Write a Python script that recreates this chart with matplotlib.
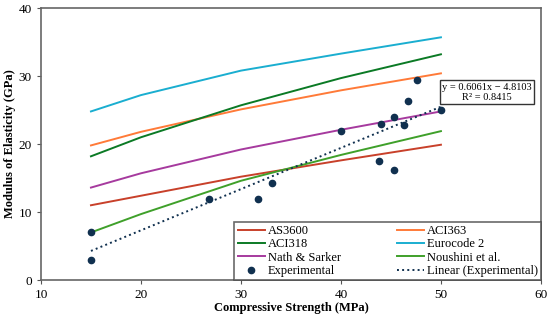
import matplotlib.pyplot as plt
import numpy as np

plt.rcParams['font.family'] = ['Liberation Serif', 'DejaVu Serif']

# model predictions (GPa) at compressive strengths (MPa)
fc_model = [15, 20, 30, 40, 50]
as3600 = [11.0, 12.4, 15.2, 17.6, 19.9]
aci363 = [19.8, 21.8, 25.1, 27.9, 30.4]
aci318 = [18.2, 21.0, 25.7, 29.7, 33.2]
eurocode2 = [24.8, 27.2, 30.8, 33.3, 35.7]
nath_sarker = [13.6, 15.7, 19.2, 22.1, 24.8]
noushini = [7.0, 9.7, 14.6, 18.4, 21.9]

# experimental results
fc_exp = [15, 15, 26.8, 31.7, 33.1, 40, 43.8, 44.0, 45.3, 45.3, 46.3, 46.7, 47.6, 50]
e_exp = [7.0, 3.0, 11.9, 11.9, 14.3, 21.9, 17.5, 22.9, 24.0, 16.2, 22.8, 26.3, 29.4, 25.0]

# linear trendline
slope, intercept = 0.6061, -4.8103
r2 = 0.8415

fig = plt.figure(figsize=(5.5, 3.23), dpi=100)
ax = fig.add_axes([0.0745, 0.133, 0.909, 0.842])

h_as, = ax.plot(fc_model, as3600, color='#c8402a', lw=1.4, label='AS3600')
h_363, = ax.plot(fc_model, aci363, color='#ff7a38', lw=1.4, label='ACI363')
h_318, = ax.plot(fc_model, aci318, color='#0b7a25', lw=1.4, label='ACI318')
h_ec, = ax.plot(fc_model, eurocode2, color='#1aaed0', lw=1.4, label='Eurocode 2')
h_ns, = ax.plot(fc_model, nath_sarker, color='#a63a9e', lw=1.4, label='Nath & Sarker')
h_no, = ax.plot(fc_model, noushini, color='#3fa02a', lw=1.4, label='Noushini et al.')
h_ex, = ax.plot(fc_exp, e_exp, 'o', color='#10304f', ms=4.5, label='Experimental')

xt = np.array([15, 50])
h_lin, = ax.plot(xt, slope * xt + intercept, ':', color='#10304f', lw=1.4,
                 label='Linear (Experimental)')

ax.text(54.6, 27.6, f'y = {slope}x − {abs(intercept)}\nR² = {r2}',
        ha='center', va='center', fontsize=7.5, linespacing=1.1,
        bbox=dict(boxstyle='square,pad=0.25', fc='white', ec='#333333', lw=1))

ax.set_xlim(10, 60)
ax.set_ylim(0, 40)
ax.set_xticks(range(10, 61, 10))
ax.set_yticks(range(0, 41, 10))
ax.tick_params(labelsize=9.5, length=3, color='#555555')
for s in ax.spines.values():
    s.set_color('#666666')
    s.set_linewidth(1.2)

ax.set_xlabel('Compressive Strength (MPa)', fontsize=9, fontweight='bold', labelpad=1)
ax.set_ylabel('Modulus of Elasticity (GPa)', fontsize=9, fontweight='bold', labelpad=2)

# row-major order like the original legend
handles = [h_as, h_318, h_ns, h_ex, h_363, h_ec, h_no, h_lin]
leg = ax.legend(handles=handles, ncol=2, loc='lower right', bbox_to_anchor=(1.0, 0.0),
                borderaxespad=0, fontsize=9, frameon=True, fancybox=False,
                handlelength=2.2, handletextpad=0.2, labelspacing=0.1,
                columnspacing=4.5, borderpad=0.25)
leg.get_frame().set_edgecolor('#444444')
leg.get_frame().set_linewidth(1.2)

plt.savefig('out.png', dpi=100)
